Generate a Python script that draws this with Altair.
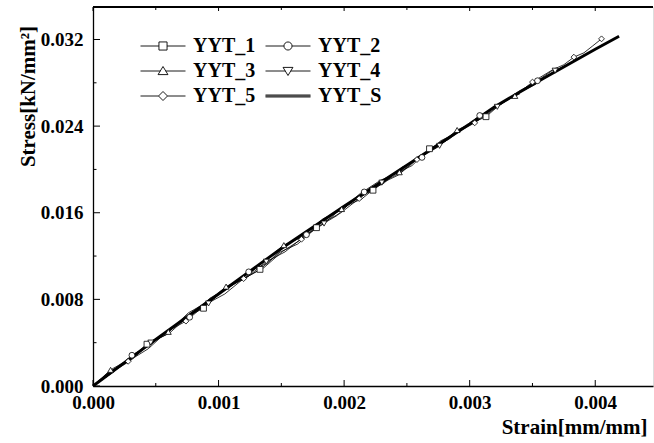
import altair as alt
import pandas as pd

FONT = "Liberation Serif"

series_names = ["YYT_1", "YYT_2", "YYT_3", "YYT_4", "YYT_5", "YYT_S"]

yyt1_strain = [0, 0.00012, 0.00027, 0.00043, 0.00058, 0.00072, 0.00088, 0.00103, 0.00118, 0.00133, 0.00149, 0.00163,
               0.00178, 0.00194, 0.00208, 0.00223, 0.00239, 0.00254, 0.00268, 0.00283, 0.00298, 0.00313, 0.00327, 0.00340]
yyt1_stress = [0, 0.00122, 0.0022, 0.00386, 0.00473, 0.00622, 0.00718, 0.00882, 0.00975, 0.01077, 0.01237, 0.01311,
               0.01462, 0.01572, 0.01723, 0.01808, 0.01949, 0.02035, 0.02191, 0.02275, 0.02409, 0.02487, 0.02628, 0.02698]

yyt2_strain = [0, 0.00016, 0.00031, 0.00047, 0.00062, 0.00077, 0.00093, 0.00108, 0.00124, 0.00139, 0.00154, 0.00170,
               0.00185, 0.00200, 0.00216, 0.00231, 0.00246, 0.00262, 0.00277, 0.00292, 0.00308, 0.00323, 0.00339,
               0.00354, 0.00369]
yyt2_stress = [0, 0.00126, 0.00284, 0.0039, 0.00537, 0.00635, 0.0081, 0.00905, 0.01054, 0.01136, 0.01307, 0.01397,
               0.01549, 0.0164, 0.01792, 0.01866, 0.0202, 0.02111, 0.02265, 0.02349, 0.02498, 0.02586, 0.02721,
               0.02819, 0.02939]

yyt3_strain = [0, 0.00014, 0.00029, 0.00045, 0.0006, 0.00076, 0.00091, 0.00106, 0.00121, 0.00137, 0.00152, 0.00167,
               0.00183, 0.00198, 0.00213, 0.00229, 0.00244, 0.00259, 0.00275, 0.0029, 0.00305, 0.0032, 0.00336,
               0.00351, 0.00362]
yyt3_stress = [0, 0.00149, 0.00247, 0.00403, 0.005, 0.00676, 0.00774, 0.00918, 0.01, 0.0116, 0.01301, 0.01383,
               0.01542, 0.01634, 0.01779, 0.019, 0.01974, 0.02118, 0.0222, 0.02364, 0.02446, 0.02584, 0.02679,
               0.02797, 0.02855]

yyt4_strain = [0, 0.00015, 0.0003, 0.00046, 0.00061, 0.00076, 0.00092, 0.00107, 0.00122, 0.00138, 0.00153, 0.00168,
               0.00184, 0.00199, 0.00214, 0.0023, 0.00245, 0.0026, 0.00276, 0.00291, 0.00306, 0.00322, 0.00337,
               0.00352, 0.00368, 0.00383, 0.00391]
yyt4_stress = [0, 0.00128, 0.00235, 0.00401, 0.00489, 0.00646, 0.00762, 0.00917, 0.00998, 0.01148, 0.01239, 0.01381,
               0.015, 0.01652, 0.01727, 0.01878, 0.01972, 0.02116, 0.02218, 0.02362, 0.02446, 0.02578, 0.02696,
               0.02784, 0.02912, 0.02997, 0.03057]

yyt5_strain = [0, 0.00013, 0.00028, 0.00044, 0.00059, 0.00074, 0.0009, 0.00105, 0.0012, 0.00136, 0.00151, 0.00166,
               0.00182, 0.00197, 0.00212, 0.00228, 0.00243, 0.00258, 0.00274, 0.00289, 0.00304, 0.0032, 0.00335,
               0.0035, 0.00366, 0.00375, 0.00383, 0.00391, 0.00398, 0.00405]
yyt5_stress = [0, 0.0013, 0.00228, 0.00344, 0.00502, 0.00599, 0.00755, 0.0085, 0.00992, 0.01092, 0.01243, 0.01355,
               0.01504, 0.01596, 0.01731, 0.01863, 0.01947, 0.02091, 0.02202, 0.02336, 0.0243, 0.02581, 0.02669,
               0.02807, 0.0292, 0.02967, 0.03037, 0.03077, 0.03141, 0.03206]

yyts_strain = [0, 0.0005, 0.001, 0.0015, 0.002, 0.0025, 0.003, 0.0032, 0.0036, 0.0040, 0.00419]
yyts_stress = [0, 0.0043, 0.0085, 0.0127, 0.0166, 0.0204, 0.0242, 0.0258, 0.0285, 0.0311, 0.0323]

x_major = [0.000, 0.001, 0.002, 0.003, 0.004]
x_minor = [0.0005, 0.0015, 0.0025, 0.0035]
y_major = [0.000, 0.008, 0.016, 0.024, 0.032]
y_minor = [0.004, 0.012, 0.020, 0.028]

marker_shapes = ["square", "circle", "triangle-up", "triangle-down", "diamond"]
legend_paths = [
    "M-2.5,0H-0.45M0.45,0H2.5M-0.45,-0.45H0.45V0.45H-0.45Z",
    "M-2.5,0H-0.45M0.45,0H2.5M0.45,0A0.45,0.45 0 1 1 -0.45,0A0.45,0.45 0 1 1 0.45,0Z",
    "M-2.5,0H-0.3M0.3,0H2.5M0,-0.5L0.55,0.4H-0.55Z",
    "M-2.5,0H-0.3M0.3,0H2.5M0,0.5L0.55,-0.4H-0.55Z",
    "M-2.5,0H-0.5M0.5,0H2.5M0,-0.5L0.5,0L0,0.5L-0.5,0Z",
    "M-2.5,-0.11H2.5M-2.5,0H2.5M-2.5,0.11H2.5",
]

rows = []
for name, xs, ys in zip(series_names,
                        [yyt1_strain, yyt2_strain, yyt3_strain, yyt4_strain, yyt5_strain, yyts_strain],
                        [yyt1_stress, yyt2_stress, yyt3_stress, yyt4_stress, yyt5_stress, yyts_stress]):
    for i, (x, y) in enumerate(zip(xs, ys)):
        rows.append({"series": name, "strain": x, "stress": y, "idx": i})
df = pd.DataFrame(rows)

W, H = 560, 379
xscale = alt.Scale(domain=[0, 0.00446], nice=False, zero=False)
yscale = alt.Scale(domain=[0, 0.035], nice=False, zero=False)

x_enc = alt.X("strain:Q", scale=xscale, axis=alt.Axis(
    values=x_major, format=".3f", title="Strain[mm/mm]", ticks=False, grid=False,
    labelFont=FONT, labelFontSize=19, labelFontWeight="bold", labelColor="black",
    labelPadding=7, labelFlush=False, labelOverlap=False,
    titleFont=FONT, titleFontSize=21, titleFontWeight="bold", titleColor="black",
    titleX=554, titleY=47, titleAlign="right", titleBaseline="alphabetic",
    domainColor="black", domainWidth=1.3))
y_enc = alt.Y("stress:Q", scale=yscale, axis=alt.Axis(
    values=y_major, format=".3f", title="Stress[kN/mm²]", ticks=False, grid=False,
    labelFont=FONT, labelFontSize=19, labelFontWeight="bold", labelColor="black",
    labelPadding=10, labelFlush=False, labelOverlap=False,
    titleFont=FONT, titleFontSize=21, titleFontWeight="bold", titleColor="black",
    titleX=-59, titleY=89, titleAngle=270, titleAlign="center", titleBaseline="alphabetic",
    domainColor="black", domainWidth=1.3))

thin = alt.Chart(df).transform_filter("datum.series != 'YYT_S'").mark_line(
    color="black", strokeWidth=0.8).encode(x=x_enc, y=y_enc, detail="series:N")
thick = alt.Chart(df).transform_filter("datum.series == 'YYT_S'").mark_line(
    color="black", strokeWidth=2.9).encode(x="strain:Q", y="stress:Q")

marker_layers = []
for k, (name, shp) in enumerate(zip(series_names[:5], marker_shapes)):
    marker_layers.append(
        alt.Chart(df).transform_filter(
            f"datum.series == '{name}' && datum.idx > 0 && (datum.idx + {k}) % 3 == 0"
        ).mark_point(shape=shp, filled=True, fill="white", stroke="black", strokeWidth=0.8,
                     size=34, opacity=1).encode(x="strain:Q", y="stress:Q")
    )

legend_layer = alt.Chart(df).transform_filter("false").mark_point(
    color="black", filled=False, strokeWidth=0.9, opacity=1).encode(
    x="strain:Q", y="stress:Q",
    shape=alt.Shape("series:N", scale=alt.Scale(domain=series_names, range=legend_paths),
                    legend=alt.Legend(orient="none", legendX=60, legendY=29, columns=2,
                                      direction="horizontal", title=None,
                                      symbolSize=324, symbolStrokeWidth=0.9, symbolOpacity=1,
                                      labelFont=FONT, labelFontSize=20,
                                      labelFontWeight="bold", labelColor="black", labelOffset=20,
                                      columnPadding=7, rowPadding=5, padding=0,
                                      symbolStrokeColor="black", symbolFillColor="transparent")),
)

xmaj = pd.DataFrame({"v": x_major})
xmin = pd.DataFrame({"v": x_minor})
ymaj = pd.DataFrame({"v": y_major})
ymin = pd.DataFrame({"v": y_minor})

tick_layers = [
    alt.Chart(xmaj).mark_rule(color="black", strokeWidth=1).encode(x="v:Q", y=alt.value(H), y2=alt.value(H - 6)),
    alt.Chart(xmin).mark_rule(color="black", strokeWidth=1).encode(x="v:Q", y=alt.value(H), y2=alt.value(H - 3)),
    alt.Chart(xmaj).mark_rule(color="black", strokeWidth=1).encode(x="v:Q", y=alt.value(0), y2=alt.value(4)),
    alt.Chart(xmin).mark_rule(color="black", strokeWidth=1).encode(x="v:Q", y=alt.value(0), y2=alt.value(3)),
    alt.Chart(ymaj).mark_rule(color="black", strokeWidth=1).encode(y="v:Q", x=alt.value(0), x2=alt.value(7)),
    alt.Chart(ymin).mark_rule(color="black", strokeWidth=1).encode(y="v:Q", x=alt.value(0), x2=alt.value(3.5)),
    alt.Chart(xmaj).mark_rule(color="black", strokeWidth=1.3).encode(x=alt.value(0), x2=alt.value(W), y=alt.value(0)),
]

chart = alt.layer(thin, thick, *marker_layers, legend_layer, *tick_layers).properties(
    width=W, height=H,
    autosize=alt.AutoSizeParams(type="none"),
    padding={"left": 93, "top": 7, "right": 1, "bottom": 57},
).configure_view(stroke=None).configure(background="white")

chart.save("out.html", embed_options={"renderer": "svg", "actions": False})
